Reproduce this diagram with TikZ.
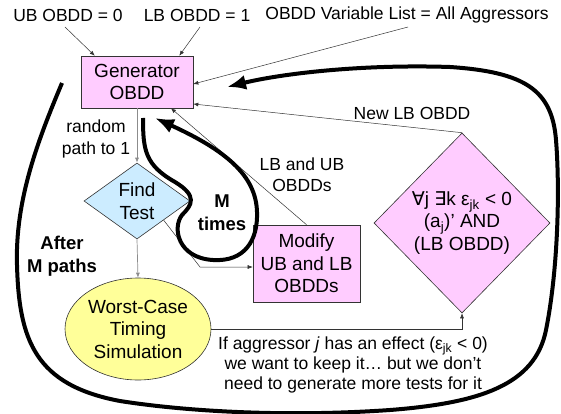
\documentclass[tikz,border=0pt]{standalone}
\usepackage{fontspec}
\setmainfont{Liberation Sans}
\newfontfamily\symfont{DejaVu Sans}
\usetikzlibrary{arrows.meta,shapes.geometric}
\definecolor{pinkfill}{HTML}{FFCCFF}
\definecolor{bluefill}{HTML}{CCECFF}
\definecolor{yellowfill}{HTML}{FFFF99}
\begin{document}
\begin{tikzpicture}[x=1pt,y=-1pt,
  nodetext/.style={font=\fontsize{19}{22.5}\selectfont, align=center},
  lbl/.style={font=\fontsize{17.5}{21}\selectfont, align=center, inner sep=0pt},
  boldlbl/.style={font=\fontsize{18.5}{23}\selectfont\bfseries, align=center, inner sep=0pt},
  pinkbox/.style={draw=black!80, line width=0.6pt, fill=pinkfill, nodetext, inner sep=0pt},
  thin/.style={draw=black!80, line width=0.5pt, -{Latex[length=5pt,width=4pt]}},
  grayarrow/.style={draw=black!45, line width=0.7pt, -{Latex[length=5pt,width=4pt]}},
  thickarrow/.style={line width=4pt, -{Latex[length=19pt,width=15pt]}},
]
\useasboundingbox (0,0) rectangle (561,414);

% nodes
\node[pinkbox, minimum width=112pt, minimum height=52pt] (gen) at (137,82) {Generator\\OBDD};
\node[draw=black!80, line width=0.6pt, fill=bluefill, shape=diamond, nodetext, inner sep=0pt,
      aspect=1.4, minimum width=106pt, minimum height=76pt] (find) at (137,201) {Find\\Test};
\node[draw=black!80, line width=0.6pt, fill=yellowfill, shape=ellipse, nodetext, inner sep=0pt,
      minimum width=146pt, minimum height=102pt] (sim) at (138,329) {Worst-Case\\Timing\\Simulation};
\node[pinkbox, minimum width=107pt, minimum height=77pt] (mod) at (306.5,263.5) {Modify\\UB and LB\\OBDDs};
\node[draw=black!80, line width=0.6pt, fill=pinkfill, shape=diamond, nodetext, inner sep=0pt,
      aspect=0.98, minimum width=176pt, minimum height=180pt] (cond) at (462,223)
  {{\symfont ∀}j {\symfont ∃}k ε\textsubscript{jk} < 0\\(a\textsubscript{j})’ AND\\(LB OBDD)};

% labels
\node[lbl] (ub) at (68,15) {UB OBDD = 0};
\node[lbl] (lb) at (197,15) {LB OBDD = 1};
\node[lbl] (vl) at (407,15) {OBDD Variable List = All Aggressors};
\node[lbl] (newlb) at (412,113) {New LB OBDD};
\node[lbl, font=\fontsize{17.5}{22}\selectfont] (rnd) at (96,139) {random\\path to 1};
\node[lbl] (lbub) at (302,175) {LB and UB\\OBDDs};
\node[boldlbl] (mt) at (222,213) {M\\times};
\node[boldlbl] (after) at (62,256) {After\\M paths};
\node[lbl, font=\fontsize{17.5}{20}\selectfont] (note) at (353,365)
  {If aggressor \textit{j} has an effect (ε\textsubscript{jk} < 0)\\we want to keep it… but we don’t\\need to generate more tests for it};

% thin connectors
\draw[thin] ([shift={(-3,12)}]ub.center) -- ([shift={(14,0)}]gen.north west);
\draw[thin] ([shift={(3,12)}]lb.center) -- ([shift={(-14,0)}]gen.north east);
\draw[thin] ([shift={(1,12)}]vl.center) -- ([shift={(0,2)}]gen.east);
\draw[thin] (cond.north) -- ([shift={(0,22)}]gen.east);
\draw[grayarrow] (gen.south) -- (find.north);
\draw[grayarrow] (find.south) -- (sim.north);
\coordinate (bend1) at (200,267);
\draw[thin] (find.south east) -- (bend1) -- (bend1 -| mod.west);
\draw[thin] (mod.north) -- ([shift={(34,0)}]gen.south);
\draw[thin] (sim.east) -| (cond.south);

% thick loops
\coordinate (bigstart) at (62,83);
\coordinate (bigend) at (227,87);
\draw[thickarrow] (bigstart) .. controls (38,140) and (15,200) .. (17,265)
  .. controls (19,340) and (35,385) .. (120,401)
  .. controls (190,412) and (290,417) .. (390,410)
  .. controls (480,403) and (535,385) .. (546,330)
  .. controls (558,270) and (560,190) .. (556,140)
  .. controls (552,90) and (525,72) .. (450,67)
  .. controls (360,64) and (280,74) .. (bigend);
\coordinate (mstart) at (143,118);
\coordinate (mend) at (155,118);
\draw[thickarrow] (mstart) .. controls (143,150) and (145,165) .. (175,182)
  .. controls (198,196) and (192,205) .. (182,215)
  .. controls (172,228) and (178,258) .. (213,260)
  .. controls (245,262) and (258,240) .. (257,212)
  .. controls (256,175) and (225,150) .. (mend);
\end{tikzpicture}
\end{document}
